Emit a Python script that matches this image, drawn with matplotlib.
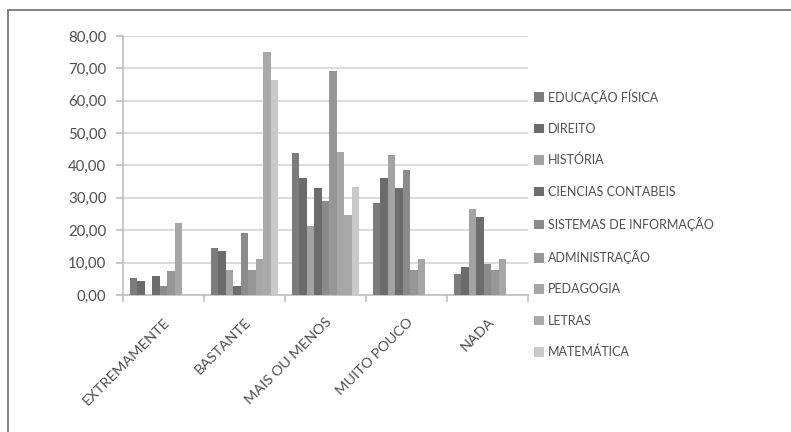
import numpy as np
import matplotlib
matplotlib.use("Agg")
import matplotlib.pyplot as plt
from matplotlib.lines import Line2D

categories = ["EXTREMAMENTE", "BASTANTE", "MAIS OU MENOS", "MUITO POUCO", "NADA"]

educacao_fisica = [5.4, 14.5, 43.9, 28.5, 6.4]
direito = [4.3, 13.5, 36.2, 36.2, 8.6]
historia = [0.0, 7.8, 21.3, 43.2, 26.7]
ciencias_contabeis = [6.0, 2.7, 33.2, 33.2, 24.1]
sistemas_informacao = [2.8, 19.0, 29.0, 38.6, 9.5]
administracao = [7.4, 7.6, 69.2, 7.6, 7.6]
pedagogia = [22.1, 11.0, 44.1, 11.0, 11.0]
letras = [0.0, 75.0, 24.7, 0.0, 0.0]
matematica = [0.0, 66.4, 33.3, 0.0, 0.0]

series_names = ["EDUCAÇÃO FÍSICA", "DIREITO", "HISTÓRIA", "CIENCIAS CONTABEIS",
                "SISTEMAS DE INFORMAÇÃO", "ADMINISTRAÇÃO", "PEDAGOGIA", "LETRAS",
                "MATEMÁTICA"]
series_values = [educacao_fisica, direito, historia, ciencias_contabeis,
                 sistemas_informacao, administracao, pedagogia, letras, matematica]
series_colors = ["#7c7c7c", "#6b6b6b", "#a3a3a3", "#6c6c6c", "#8b8b8b",
                 "#979797", "#a6a6a6", "#a9a9a9", "#c9c9c9"]

y_ticks = [0, 10, 20, 30, 40, 50, 60, 70, 80]

plt.rcParams["font.family"] = ["Lato", "DejaVu Sans"]
text_color = "#505050"

W, H = 791, 432
fig = plt.figure(figsize=(W / 100, H / 100), dpi=100)
ax = fig.add_axes([123 / W, 1 - 295 / H, 405 / W, (295 - 36) / H])

n = len(series_values)
bar_w = 0.092
x = np.arange(len(categories))
handles = []
for i, (vals, name, col) in enumerate(zip(series_values, series_names, series_colors)):
    offs = (i - (n - 1) / 2) * bar_w
    b = ax.bar(x + offs, vals, width=bar_w, color=col, label=name, zorder=3,
               linewidth=0)
    handles.append(b)

ax.set_xlim(-0.5, len(categories) - 0.5)
ax.set_ylim(0, 80)
ax.set_yticks(y_ticks)
ax.set_yticklabels([f"{v:.2f}".replace(".", ",") for v in y_ticks],
                   fontsize=10.8, color=text_color)
ax.yaxis.grid(True, color="#d9d9d9", linewidth=1.3, zorder=0)
ax.set_axisbelow(True)

ax.set_xticks(x)
ax.set_xticklabels(categories, rotation=45, ha="right", rotation_mode="anchor",
                   fontsize=10.4, color=text_color)
ax.tick_params(axis="x", length=0, pad=15)
ax.set_xticks(np.arange(len(categories) + 1) - 0.5, minor=True)
ax.tick_params(axis="x", which="minor", length=5, color="#bfbfbf", width=1.2)
ax.tick_params(axis="y", length=5, color="#bfbfbf", width=1.2, pad=7)

for s in ["top", "right"]:
    ax.spines[s].set_visible(False)
for s in ["left", "bottom"]:
    ax.spines[s].set_color("#bfbfbf")
    ax.spines[s].set_linewidth(1.2)

leg = fig.legend(handles=handles, labels=series_names, loc="upper left",
                 bbox_to_anchor=(529 / W, 1 - 84 / H), frameon=False,
                 fontsize=9.0, handlelength=0.8, handleheight=0.8,
                 handletextpad=0.3, labelspacing=1.54, borderaxespad=0)
for t in leg.get_texts():
    t.set_color(text_color)

# outer frame
fig.add_artist(Line2D([8 / W, 1.0], [1 - 10 / H, 1 - 10 / H],
                      transform=fig.transFigure, color="#808080", linewidth=1.4))
fig.add_artist(Line2D([8 / W, 8 / W], [0.0, 1 - 10 / H],
                      transform=fig.transFigure, color="#808080", linewidth=1.4))

fig.savefig("out.png", dpi=100, facecolor="white")
